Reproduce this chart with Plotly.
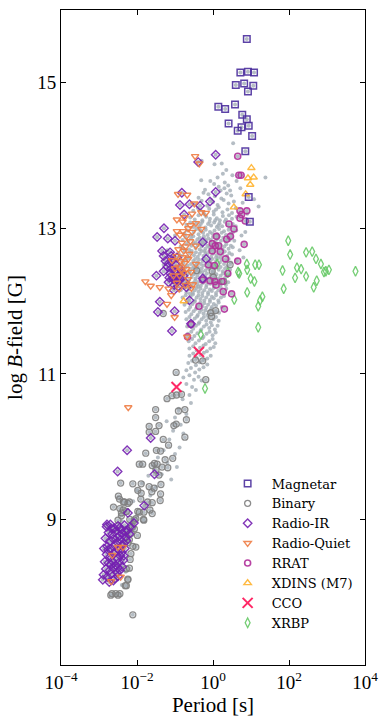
import plotly.graph_objects as go

# ---------------- data: (log10 Period [s], log10 B [G]) ----------------
magnetar = [(0.89,15.60),(0.72,15.14),(0.92,15.15),(1.08,15.14),(0.60,14.97),(0.82,14.99),
            (1.06,14.96),(0.92,14.88),(0.58,14.70),(0.14,14.67),(0.32,14.64),(0.77,14.56),
            (0.89,14.50),(0.41,14.44),(0.75,14.39),(0.94,14.41),(0.65,14.34),(1.03,14.27),
            (0.85,14.06),(0.94,13.43),(0.97,13.09)]

binary = [(0.45,12.50),(0.28,12.27),(-0.06,11.84),(-0.04,11.79),(0.07,11.87),(-0.43,12.42),
          (-0.02,12.41),(0.01,12.33),(-1.31,11.83),(-0.46,11.19),(-0.27,11.18),(-0.97,11.02),
          (-0.19,10.92),(-1.21,10.66),(-1.08,10.70),(-0.96,10.71),(-0.83,10.72),(-1.51,10.51),
          (-0.91,10.49),(-0.74,10.51),(-1.51,10.40),(-0.70,10.37),(-1.03,10.29),(-0.97,10.31),
          (-1.68,10.28),(-1.42,10.29),(-1.51,10.21),(-1.68,10.20),(-1.31,10.10),(-0.74,10.13),
          (-1.17,10.02),(-1.49,9.95),(-1.38,9.94),(-1.77,9.91),(-1.06,9.84),(-1.26,9.82),
          (-1.94,9.76),(-1.85,9.76),(-1.60,9.74),(-1.54,9.77),(-1.47,9.76),(-1.34,9.72),
          (-1.19,9.71),(-1.50,9.68),(-1.42,9.61),(-1.37,9.48),(-2.11,9.49),(-1.89,9.49),
          (-2.43,9.50),(-1.68,9.45),(-1.55,9.43),(-1.98,9.40),(-1.61,9.38),(-1.38,9.35),
          (-1.89,9.36),(-2.49,9.32),(-1.72,9.24),(-1.60,9.23),(-2.36,9.24),(-2.24,9.22),
          (-2.62,9.17),(-2.45,9.15),(-2.36,9.13),(-2.28,9.11),(-2.41,9.09),(-1.98,9.11),
          (-1.66,9.13),(-1.83,9.00),(-2.19,9.00),(-2.28,8.86),(-2.15,8.81),(-2.24,8.68),
          (-2.11,8.63),(-2.28,8.32),(-2.24,8.18),(-2.28,8.09),(-2.66,7.98),(-2.56,7.98),
          (-2.45,7.98),(-2.11,7.69),(-2.46,9.28),(-2.33,9.24),(-2.20,9.24),(-1.90,9.28),
          (-1.39,9.26),(-1.82,9.10),(-1.94,9.10),(-1.60,9.08),(-2.03,9.01),(-1.82,8.99),
          (-2.50,8.99),(-2.07,8.87),(-1.99,8.78),(-2.03,8.62),(-2.16,8.53),(-2.20,8.33),
          (-2.24,8.17),(-2.31,8.09),(-2.69,7.96),(-2.50,7.96),(-2.07,8.99),(-2.41,9.05),
          (-2.20,8.72),(-2.18,8.45),(-2.12,8.90)]

radio_ir = [(0.07,14.01),(-0.39,13.91),(-0.82,13.49),(0.07,13.50),(-0.08,13.37),(-0.87,13.32),
            (-0.62,13.33),(-0.34,13.31),(-0.76,13.19),(-1.29,13.00),(-1.47,12.88),(-1.19,12.86),
            (-1.00,12.83),(-1.34,12.69),(-1.30,12.62),(-1.13,12.67),(-1.16,12.52),(-1.30,12.41),
            (-1.49,12.35),(-1.04,12.33),(-1.17,12.26),(-0.93,12.28),(-0.74,12.26),(-0.70,12.19),
            (-1.03,12.15),(-0.18,12.58),(-0.27,12.81),(-0.27,12.31),(-0.62,12.01),(-1.40,11.99),
            (-1.45,11.85),(-1.01,11.86),(-1.08,11.59),(-0.58,11.69),
            (-1.10,12.45),(-1.00,12.42),(-0.95,12.38),(-1.05,12.30),(-0.90,12.35),(-1.12,12.38),
            (-0.98,12.50),(-1.20,12.47),(-0.88,12.45),(-1.02,12.22),(-0.92,12.20),(-0.85,12.30),
            (-1.08,12.55),(-0.82,12.40),(-1.15,12.32),(-0.96,12.28),(-1.25,12.55),(-0.78,12.35),
            (-1.10,12.62),(-0.95,12.60),
            (-1.64,10.12),(-2.26,9.95),(-2.51,9.66),(-1.54,9.62),(-1.81,9.19),(-2.24,9.09),
            (-2.79,8.93),(-2.08,8.95),
            (-2.80,8.90),(-2.70,8.93),(-2.60,8.88),(-2.50,8.91),(-2.42,8.86),(-2.33,8.92),
            (-2.25,8.85),(-2.18,8.90),(-2.75,8.82),(-2.65,8.80),(-2.55,8.84),(-2.46,8.78),
            (-2.38,8.81),(-2.30,8.76),(-2.83,8.74),(-2.72,8.70),(-2.62,8.73),(-2.52,8.69),
            (-2.43,8.72),(-2.35,8.67),(-2.28,8.71),(-2.78,8.63),(-2.68,8.60),(-2.58,8.64),
            (-2.48,8.58),(-2.40,8.55),(-2.32,8.60),(-2.80,8.52),(-2.70,8.49),(-2.60,8.53),
            (-2.52,8.46),(-2.44,8.50),(-2.36,8.44),(-2.85,8.42),(-2.75,8.40),(-2.65,8.43),
            (-2.56,8.37),(-2.47,8.41),(-2.39,8.35),(-2.82,8.32),(-2.72,8.30),(-2.62,8.33),
            (-2.53,8.27),(-2.45,8.30),(-2.88,8.24),(-2.78,8.21),(-2.68,8.25),(-2.58,8.19),
            (-2.50,8.22),(-2.90,8.17),(-2.73,8.14),(-2.62,8.16),(-2.66,8.87),(-2.52,8.75),
            (-2.40,8.64),(-2.57,8.56),(-2.68,8.38),(-2.50,8.34),(-2.76,8.58),(-2.30,8.83),
            (-2.20,8.80),(-2.87,8.60),(-2.35,8.50),(-2.45,8.89)]

radio_quiet = [(-0.47,13.99),(-0.36,13.89),(-0.68,13.46),(-0.92,13.47),(-0.49,13.34),(-0.31,13.22),
               (-0.19,13.21),(-0.55,13.20),(-0.95,13.12),(-0.80,13.09),(-0.45,13.07),(-0.59,13.04),
               (-0.31,12.99),(-0.95,12.96),(-0.79,12.96),(-0.55,12.95),(-0.87,12.91),(-0.70,12.89),
               (-0.45,12.76),(-0.91,12.71),(-0.77,12.69),(-0.62,12.65),(-0.96,12.62),(-0.80,12.60),
               (-1.08,12.56),(-0.45,12.51),(-0.90,12.47),(-0.70,12.44),(-0.77,12.39),(-1.04,12.35),
               (-1.78,12.27),(-1.64,12.21),(-1.40,12.19),(-1.17,12.17),(-0.89,12.17),(-0.57,12.18),
               (-1.10,12.08),(-0.53,12.23),(-1.21,11.96),(-1.01,11.78),(-0.68,11.51),
               (-0.85,12.55),(-0.75,12.52),(-0.65,12.58),(-0.82,12.80),(-0.72,12.75),(-0.60,12.82),
               (-0.88,12.35),(-0.66,12.30),(-0.95,12.25),(-0.72,12.22),(-0.58,12.40),(-0.83,12.42),
               (-1.00,12.45),(-0.65,13.00),(-0.75,13.15),
               (-2.23,10.54),(-2.50,8.62),(-2.37,8.62),(-2.65,8.51),(-2.68,8.15),(-2.43,8.21)]

rrat = [(0.65,13.99),(0.68,13.73),(0.74,13.73),(0.71,13.24),(0.89,13.24),(0.75,13.19),(0.71,13.14),
        (0.85,13.10),(0.42,13.06),(0.55,12.99),(0.46,12.89),(0.36,12.85),(0.09,12.89),(-0.02,12.79),
        (0.06,12.76),(0.15,12.76),(-0.02,12.69),(0.19,12.68),(0.33,12.58),(0.65,12.55),(-0.12,12.50),
        (0.04,12.49),(0.39,12.38),(-0.08,12.28),(0.05,12.27),(0.24,12.27),(0.08,12.22),(-0.27,12.29),
        (0.27,12.13),(0.49,12.10),(-0.37,11.93),(0.30,11.89),(-0.58,11.68),(-0.67,11.51),(0.82,12.78)]

xdins = [(1.01,13.83),(0.92,13.69),(1.07,13.70),(0.98,13.60),(0.86,13.47),(0.55,13.29),(-0.77,12.00)]

cco = [(-0.37,11.30),(-0.96,10.82)]

xrbp = [(1.98,12.83),(2.03,12.64),(2.45,12.67),(2.61,12.68),(2.71,12.58),(2.84,12.51),(3.05,12.43),
        (2.97,12.41),(2.92,12.40),(3.75,12.41),(1.83,12.42),(2.21,12.46),(2.32,12.44),(2.16,12.32),
        (2.45,12.34),(2.73,12.28),(2.65,12.19),(1.86,12.17),(0.89,12.51),(0.90,12.43),(1.11,12.50),
        (1.21,12.50),(0.66,12.40),(0.69,12.38),(0.39,12.39),(0.99,12.31),(1.09,12.27),(0.90,12.12),
        (0.56,12.02),(1.30,12.06),(1.24,12.01),(1.19,11.93),(1.19,11.64),(0.11,12.51),(-0.32,11.54),
        (-0.21,10.80)]

# remaining catalogue pulsars (small grey dots)
atnf_other = [
    (0.53,14.17),(-0.30,13.93),(0.04,13.88),(0.23,13.89),(0.35,13.80),(0.26,13.75),(0.51,13.73),
    (0.12,13.70),(1.38,13.70),(-0.07,13.65),(-0.31,13.66),(0.62,13.65),(0.31,13.63),(0.03,13.61),
    (0.40,13.59),(0.15,13.57),(0.30,13.55),(0.72,13.55),(-0.21,13.53),(0.45,13.52),(0.20,13.52),
    (1.08,13.40),(1.20,13.30),(0.90,13.20),(0.85,12.95),(0.78,13.35),
    (-0.38,13.42),(-0.12,13.47),(0.05,13.44),(0.22,13.41),(0.36,13.48),(0.48,13.45),(-0.25,13.49),
    (-0.48,13.33),(-0.30,13.38),(-0.15,13.31),(0.00,13.36),(0.12,13.32),(0.28,13.39),(0.41,13.34),
    (0.55,13.37),(-0.05,13.39),
    (-0.52,13.24),(-0.40,13.28),(-0.25,13.21),(-0.10,13.27),(0.02,13.23),(0.15,13.29),(0.25,13.22),
    (0.38,13.26),(0.50,13.21),(0.60,13.28),(-0.33,13.25),(0.08,13.26),
    (-0.60,13.15),(-0.48,13.12),(-0.38,13.18),(-0.28,13.11),(-0.18,13.16),(-0.08,13.13),(0.02,13.19),
    (0.10,13.14),(0.18,13.11),(0.26,13.17),(0.34,13.12),(0.42,13.18),(0.50,13.13),(0.62,13.16),
    (-0.22,13.19),(0.06,13.11),
    (-0.70,13.05),(-0.60,13.08),(-0.52,13.02),(-0.44,13.07),(-0.36,13.03),(-0.28,13.09),(-0.20,13.01),
    (-0.13,13.06),(-0.05,13.04),(0.03,13.08),(0.10,13.02),(0.17,13.07),(0.24,13.03),(0.31,13.09),
    (0.38,13.05),(0.45,13.01),(0.52,13.06),(0.60,13.03),(-0.32,13.06),(-0.09,13.09),(0.14,13.04),
    (-0.75,12.93),(-0.67,12.97),(-0.58,12.91),(-0.51,12.95),(-0.44,12.99),(-0.38,12.92),(-0.31,12.96),
    (-0.26,12.94),(-0.19,12.98),(-0.14,12.91),(-0.08,12.95),(-0.02,12.93),(0.04,12.97),(0.11,12.92),
    (0.16,12.99),(0.23,12.94),(0.29,12.96),(0.34,12.91),(0.41,12.98),(0.47,12.93),(0.53,12.95),
    (0.61,12.97),(-0.35,12.98),(0.07,12.90),
    (-0.80,12.84),(-0.72,12.88),(-0.65,12.82),(-0.58,12.86),(-0.52,12.89),(-0.46,12.81),(-0.41,12.85),
    (-0.35,12.87),(-0.29,12.83),(-0.24,12.89),(-0.18,12.82),(-0.12,12.86),(-0.06,12.84),(0.00,12.88),
    (0.05,12.81),(0.10,12.85),(0.16,12.89),(0.21,12.83),(0.27,12.87),(0.33,12.82),(0.38,12.86),
    (0.44,12.84),(0.50,12.88),(0.56,12.83),(-0.21,12.85),(0.13,12.87),
    (-0.85,12.75),(-0.77,12.72),(-0.70,12.78),(-0.63,12.71),(-0.57,12.76),(-0.51,12.79),(-0.46,12.73),
    (-0.40,12.77),(-0.35,12.71),(-0.30,12.75),(-0.25,12.79),(-0.20,12.72),(-0.15,12.76),(-0.10,12.74),
    (-0.05,12.78),(0.00,12.71),(0.05,12.75),(0.10,12.79),(0.15,12.73),(0.20,12.77),(0.25,12.71),
    (0.30,12.75),(0.35,12.78),(0.41,12.72),(0.47,12.76),(0.52,12.74),(-0.33,12.79),(-0.07,12.70),
    (-0.90,12.65),(-0.82,12.62),(-0.75,12.68),(-0.68,12.61),(-0.62,12.66),(-0.56,12.69),(-0.50,12.63),
    (-0.45,12.67),(-0.40,12.61),(-0.35,12.65),(-0.30,12.69),(-0.25,12.62),(-0.20,12.66),(-0.15,12.64),
    (-0.10,12.68),(-0.05,12.61),(0.00,12.65),(0.05,12.69),(0.10,12.63),(0.15,12.67),(0.20,12.61),
    (0.25,12.65),(0.31,12.68),(0.37,12.62),(0.43,12.66),(0.50,12.64),(-0.22,12.69),(0.08,12.60),
    (-0.95,12.55),(-0.86,12.58),(-0.78,12.52),(-0.71,12.56),(-0.64,12.59),(-0.58,12.51),(-0.52,12.55),
    (-0.47,12.58),(-0.42,12.53),(-0.37,12.57),(-0.32,12.51),(-0.27,12.55),(-0.22,12.59),(-0.17,12.52),
    (-0.12,12.56),(-0.07,12.54),(-0.02,12.58),(0.03,12.51),(0.08,12.55),(0.13,12.59),(0.18,12.53),
    (0.23,12.57),(0.29,12.51),(0.35,12.55),(0.41,12.58),(0.47,12.53),(-0.44,12.50),(-0.10,12.50),
    (-0.95,12.45),(-0.87,12.48),(-0.80,12.42),(-0.73,12.46),(-0.67,12.49),(-0.61,12.41),(-0.55,12.45),
    (-0.50,12.48),(-0.45,12.43),(-0.40,12.47),(-0.35,12.41),(-0.30,12.45),(-0.25,12.49),(-0.20,12.42),
    (-0.15,12.46),(-0.10,12.44),(-0.05,12.48),(0.00,12.41),(0.05,12.45),(0.10,12.49),(0.15,12.43),
    (0.20,12.47),(0.26,12.41),(0.32,12.45),(0.38,12.48),(0.45,12.43),(-0.28,12.40),(0.02,12.47),
    (-0.95,12.35),(-0.88,12.32),(-0.81,12.38),(-0.74,12.31),(-0.68,12.36),(-0.62,12.39),(-0.56,12.33),
    (-0.51,12.37),(-0.46,12.31),(-0.41,12.35),(-0.36,12.39),(-0.31,12.32),(-0.26,12.36),(-0.21,12.34),
    (-0.16,12.38),(-0.11,12.31),(-0.06,12.35),(-0.01,12.39),(0.04,12.33),(0.09,12.37),(0.14,12.31),
    (0.20,12.35),(0.26,12.38),(0.32,12.32),(0.38,12.36),(-0.48,12.39),(-0.19,12.30),
    (-0.90,12.25),(-0.82,12.28),(-0.75,12.22),(-0.69,12.26),(-0.63,12.29),(-0.57,12.21),(-0.52,12.25),
    (-0.47,12.28),(-0.42,12.23),(-0.37,12.27),(-0.32,12.21),(-0.27,12.25),(-0.22,12.29),(-0.17,12.22),
    (-0.12,12.26),(-0.07,12.24),(-0.02,12.28),(0.03,12.21),(0.08,12.25),(0.14,12.29),(0.20,12.23),
    (0.27,12.27),(0.34,12.22),(0.40,12.26),(-0.39,12.20),
    (-0.85,12.15),(-0.77,12.18),(-0.70,12.12),(-0.64,12.16),(-0.58,12.19),(-0.53,12.11),(-0.48,12.15),
    (-0.43,12.18),(-0.38,12.13),(-0.33,12.17),(-0.28,12.11),(-0.23,12.15),(-0.18,12.19),(-0.13,12.12),
    (-0.08,12.16),(-0.03,12.14),(0.02,12.18),(0.08,12.11),(0.14,12.15),(0.20,12.19),(0.27,12.13),
    (0.35,12.17),(-0.61,12.10),
    (-0.80,12.05),(-0.72,12.08),(-0.65,12.02),(-0.59,12.06),(-0.53,12.09),(-0.48,12.01),(-0.43,12.05),
    (-0.38,12.08),(-0.33,12.03),(-0.28,12.07),(-0.23,12.01),(-0.18,12.05),(-0.13,12.09),(-0.08,12.02),
    (-0.03,12.06),(0.02,12.04),(0.08,12.08),(0.14,12.01),(0.21,12.05),(0.29,12.07),
    (-0.75,11.95),(-0.67,11.98),(-0.60,11.92),(-0.54,11.96),(-0.48,11.99),(-0.43,11.91),(-0.38,11.95),
    (-0.33,11.98),(-0.28,11.93),(-0.23,11.97),(-0.18,11.91),(-0.13,11.95),(-0.08,11.99),(-0.03,11.92),
    (0.02,11.96),(0.08,11.94),(0.15,11.98),(0.23,11.92),
    (-0.72,11.85),(-0.64,11.88),(-0.57,11.82),(-0.51,11.86),(-0.45,11.89),(-0.40,11.81),(-0.35,11.85),
    (-0.30,11.88),(-0.25,11.83),(-0.20,11.87),(-0.15,11.81),(-0.10,11.85),(-0.05,11.89),(0.01,11.82),
    (0.08,11.86),(0.16,11.84),
    (-0.70,11.75),(-0.62,11.78),(-0.55,11.72),(-0.48,11.76),(-0.42,11.79),(-0.36,11.71),(-0.30,11.75),
    (-0.24,11.78),(-0.18,11.73),(-0.12,11.77),(-0.06,11.71),(0.01,11.75),(0.08,11.78),(0.15,11.73),
    (-0.68,11.65),(-0.60,11.68),(-0.52,11.62),(-0.45,11.66),(-0.38,11.69),(-0.31,11.61),(-0.24,11.65),
    (-0.17,11.68),(-0.10,11.63),(-0.03,11.67),(0.05,11.61),(0.12,11.66),
    (-0.66,11.55),(-0.57,11.58),(-0.49,11.52),(-0.41,11.56),(-0.33,11.59),(-0.25,11.51),(-0.17,11.55),
    (-0.09,11.58),(-0.01,11.53),(0.07,11.57),
    (-0.64,11.45),(-0.55,11.48),(-0.46,11.42),(-0.37,11.46),(-0.28,11.49),(-0.19,11.41),(-0.10,11.45),
    (-0.01,11.48),(0.06,11.42),
    (-0.62,11.35),(-0.52,11.38),(-0.43,11.32),(-0.34,11.36),(-0.25,11.39),(-0.16,11.31),(-0.07,11.35),
    (0.02,11.37),
    (-0.62,11.25),(-0.52,11.28),(-0.43,11.22),(-0.33,11.26),(-0.24,11.29),(-0.15,11.21),(-0.06,11.25),
    (-0.65,11.15),(-0.55,11.18),(-0.45,11.12),(-0.35,11.16),(-0.25,11.19),(-0.15,11.13),
    (-0.70,11.05),(-0.58,11.08),(-0.47,11.02),(-0.36,11.06),(-0.25,11.09),
    (-0.78,10.95),(-0.62,10.98),(-0.50,10.92),(-0.38,10.96),(-0.30,10.91),
    (-1.05,12.60),(-1.15,12.45),(-1.10,12.30),(-1.20,12.70),(-1.00,12.90),(-1.30,12.50),
    (0.62,12.55),(0.70,12.70),(0.68,12.35),(0.80,12.60),(0.75,12.90),
    (-0.70,10.86),(-0.55,10.82),(-0.62,10.71),(-0.45,10.78),(-0.80,10.65),(-0.58,10.60),(-0.90,10.52),
    (-0.70,10.45),(-1.00,10.40),(-1.22,10.35),(-0.85,10.30),(-1.05,10.22),(-0.78,10.18),(-1.15,10.10),
    (-0.88,9.99),(-1.30,9.95),(-1.00,9.90),(-1.45,9.85),(-1.20,9.78),(-0.95,9.72),(-1.55,9.70),
    (-1.35,9.62),(-1.70,9.60),(-1.10,9.55),(-1.85,9.50),(-1.50,9.45),(-2.00,9.40),(-1.65,9.33),
    (-2.10,9.25),(-1.80,9.18),(-2.30,9.12),(-2.00,9.05),(-2.40,8.98),(-2.15,8.92),(-2.55,8.85),
    (-2.25,8.78),(-2.65,8.70),(-2.35,8.62),(-2.75,8.55),(-2.45,8.45),(-2.62,8.35),(-2.30,8.28),
    (-2.55,8.20),(-2.40,8.10)]

legend_names = ["Magnetar", "Binary", "Radio-IR", "Radio-Quiet", "RRAT", "XDINS (M7)", "CCO", "XRBP"]
x_tick_exp = [-4, -2, 0, 2, 4]
y_ticks = [9, 11, 13, 15]

FONT = "Liberation Serif, DejaVu Serif, serif"
LEGEND_FONT = "DejaVu Serif, Liberation Serif, serif"


def px(pts):
    return [10 ** p for p, b in pts]


def by(pts):
    return [b for p, b in pts]


fig = go.Figure()

# catalogue dots (catalogue also contains magnetars, binaries, RRATs, Radio-IR)
atnf = atnf_other + magnetar + binary + rrat + radio_ir
fig.add_trace(go.Scatter(x=px(atnf), y=by(atnf), mode="markers", showlegend=False,
                         marker=dict(size=4, color="#a3acb5", opacity=0.8, line=dict(width=0)),
                         hoverinfo="skip"))

styles = {
    "Binary":      (binary, "circle-open", 6, "#808080", 1.3),
    "XRBP":        (xrbp, "diamond-tall-open", 7, "#66c966", 1.3),
    "RRAT":        (rrat, "circle-open", 6, "#b0309a", 1.6),
    "Radio-IR":    (radio_ir, "diamond-open", 6.5, "#7420b0", 1.4),
    "Radio-Quiet": (radio_quiet, "triangle-down-open", 6.5, "#ee7d45", 1.4),
    "XDINS (M7)":  (xdins, "triangle-up-open", 6.5, "#ffb22e", 1.4),
    "Magnetar":    (magnetar, "square-open", 6.5, "#4a2d9c", 1.5),
    "CCO":         (cco, "x-thin-open", 10, "#ff1155", 2.0),
}
for name in ["Binary", "XRBP", "RRAT", "Radio-IR", "Radio-Quiet", "XDINS (M7)", "Magnetar", "CCO"]:
    pts, sym, size, col, lw = styles[name]
    fig.add_trace(go.Scatter(
        x=px(pts), y=by(pts), mode="markers", name=name,
        legendrank=legend_names.index(name) + 1,
        marker=dict(symbol=sym, size=size, color=col, opacity=0.9, line=dict(width=lw, color=col)),
    ))

axis_common = dict(ticks="inside", ticklen=5, tickwidth=1, tickcolor="black", showline=True,
                   linecolor="black", linewidth=1, mirror="allticks", showgrid=False, zeroline=False,
                   ticklabeloverflow="allow",
                   tickfont=dict(family=FONT, size=19, color="black"))

fig.update_layout(
    width=387, height=718,
    margin=dict(l=61, r=13, t=9, b=50),
    paper_bgcolor="white", plot_bgcolor="white",
    font=dict(family=FONT, color="black"),
    xaxis=dict(type="log", range=[-4, 4], tickvals=[10.0 ** e for e in x_tick_exp],
               ticktext=["10<sup>%s</sup>" % (str(e).replace("-", "\u2212")) for e in x_tick_exp],
               title=dict(text="Period [s]", font=dict(family=FONT, size=21), standoff=2),
               **axis_common),
    yaxis=dict(range=[7, 16], tickvals=y_ticks, ticktext=[str(t) for t in y_ticks],
               title=dict(text="log <i>B</i>-field [G]", font=dict(family=FONT, size=21), standoff=8),
               **axis_common),
    legend=dict(x=0.535, y=0.300, xanchor="left", yanchor="top", bgcolor="rgba(0,0,0,0)",
                font=dict(family=LEGEND_FONT, size=13, color="black"), itemsizing="trace",
                itemwidth=38, tracegroupgap=0),
)

fig.write_html("out.html")
